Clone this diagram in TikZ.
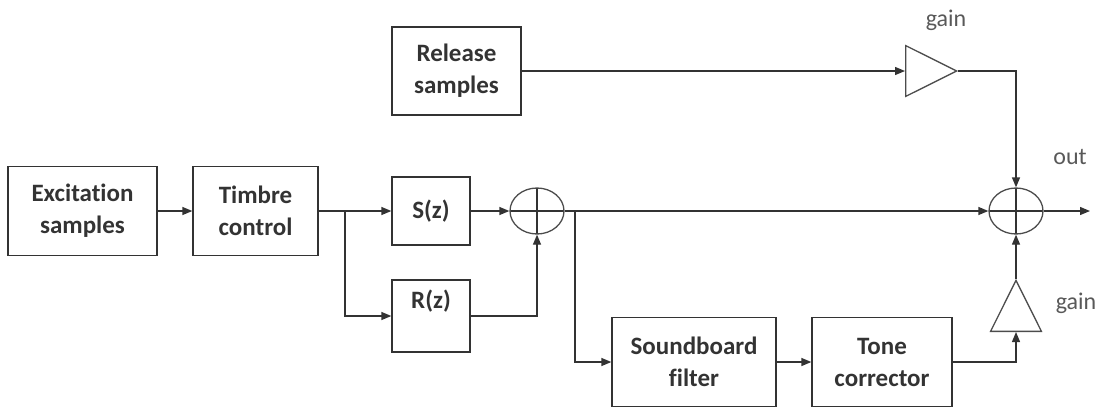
\documentclass[tikz,border=0pt]{standalone}
\usepackage{fontspec}
\setmainfont{Carlito}[Ligatures=NoCommon]
\usetikzlibrary{positioning, arrows.meta, shapes.geometric}

\begin{document}
\begin{tikzpicture}[
    x=1pt, y=-1pt,
    line width=1.3pt,
    draw=black!80,
    >={Triangle[length=10pt, width=8pt]},
    block/.style={
        draw=black!80,
        minimum height=89pt,
        align=center,
        inner sep=2pt,
        font=\fontsize{25}{32}\selectfont\bfseries,
        text=black!80
    },
    sumjn/.style={
        draw=black!70,
        ellipse,
        minimum width=54pt,
        minimum height=46pt,
        inner sep=0pt,
        path picture={\draw[black!80]
            (path picture bounding box.north) -- (path picture bounding box.south)
            (path picture bounding box.west) -- (path picture bounding box.east);}
    },
    amp/.style={
        draw=black!70,
        isosceles triangle,
        isosceles triangle apex angle=53,
        inner sep=0pt,
        minimum height=51pt
    },
    tag/.style={font=\fontsize{24}{28}\selectfont, text=black!65}
]
\useasboundingbox (0,0) rectangle (1105,410);

%% ── Blocks ───────────────────────────────────────────────────────────────────
\node[block, minimum width=149pt] (exc) at (82.5,211) {Excitation\\samples};
\node[block, minimum width=125pt] (timb) at (255.5,211) {Timbre\\control};
\node[block, minimum width=78pt, minimum height=68pt] (sz) at (431,211) {S(z)};
\node[block, minimum width=78pt, minimum height=72pt, text depth=34pt] (rz) at (431,316) {R(z)};
\node[block, minimum width=129pt, minimum height=88pt] (rel) at (456.5,71) {Release\\samples};
\node[block, minimum width=164pt] (sbf) at (694,362) {Soundboard\\filter};
\node[block, minimum width=140pt] (tone) at (882,362) {Tone\\corrector};

%% ── Adders and gains ─────────────────────────────────────────────────────────
\node[sumjn] (sumA) at (537,211) {};
\node[sumjn] (sumB) at (1016,211) {};
\node[amp, anchor=lower side] (ampT) at (905,71) {};
\node[amp, anchor=lower side, shape border rotate=90] (ampB) at (1016,332) {};

\node[tag] (gainT) at (946,20) {gain};
\node[tag] (gainB) at (1076,303) {gain};
\node[tag] (outlbl) at (1070,157) {out};

\coordinate (fork1) at (345,211);
\coordinate (fork2) at (575,211);
\coordinate (outp) at (1090,211);

%% ── Connections ──────────────────────────────────────────────────────────────
\draw[->] (exc) -- (timb);
\draw (timb) -- (fork1);
\draw[->] (fork1) -- (sz);
\draw[->] (fork1) |- (rz);
\draw[->] (sz) -- (sumA);
\draw[->] (rz) -| (sumA);
\draw[->] (sumA) -- (sumB);
\draw[->] (fork2) |- (sbf);
\draw[->] (sbf) -- (tone);
\draw[->] (tone) -| (ampB.lower side);
\draw[->] (ampB.apex) -- (sumB);
\draw[->] (rel) -- (ampT.lower side);
\draw[->] (ampT.apex) -| (sumB);
\draw[->] (sumB) -- (outp);

\end{tikzpicture}
\end{document}
